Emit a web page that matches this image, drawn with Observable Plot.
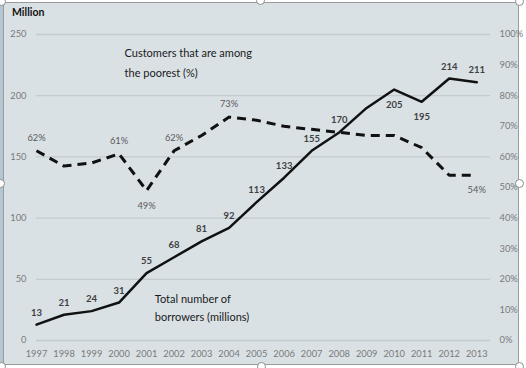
<!DOCTYPE html>
<html>
<head>
<meta charset="utf-8">
<script src="https://cdn.jsdelivr.net/npm/d3@7"></script>
<script src="https://cdn.jsdelivr.net/npm/@observablehq/plot@0.6"></script>
<style>
  html, body { margin: 0; padding: 0; background: #ffffff; }
  #wrap { position: relative; width: 526px; height: 368px; overflow: hidden; font-family: Lato, "Open Sans", sans-serif; }
  #bg { position: absolute; left: 3px; top: 2px; width: 516px; height: 363px; background: #d9e1e5; border: 1px solid #9a9a9a; box-sizing: border-box; }
  #strip { position: absolute; left: 0; top: 0; width: 3px; height: 368px; background: #b4c6d3; }
  #title { position: absolute; left: 12px; top: 6px; font-size: 10.5px; font-weight: bold; color: #111; }
  #chart { position: absolute; left: 0; top: 0; }
  .h { position: absolute; width: 9px; height: 9px; border-radius: 50%; background: #fff; border: 1px solid #8c8c8c; box-sizing: border-box; }
</style>
</head>
<body>
<div id="wrap">
  <div id="strip"></div>
  <div id="bg"></div>
  <div id="chart"></div>
  <div id="title">Million</div>
  <div class="h" style="left:-3px;top:-3px"></div>
  <div class="h" style="left:256px;top:-4px"></div>
  <div class="h" style="left:515px;top:-3px"></div>
  <div class="h" style="left:-4px;top:179px"></div>
  <div class="h" style="left:515px;top:179px"></div>
  <div class="h" style="left:-3px;top:362px"></div>
  <div class="h" style="left:257px;top:362px"></div>
  <div class="h" style="left:515px;top:362px"></div>
</div>
<script>
const years = [1997,1998,1999,2000,2001,2002,2003,2004,2005,2006,2007,2008,2009,2010,2011,2012,2013];
const borrowers = [13,21,24,31,55,68,81,92,113,133,155,170,190,205,195,214,211];
const poorestPct = [62,57,58,61,49,62,67,73,72,70,69,68,67,67,63,54,54];
const borrowerLabelYears = [1997,1998,1999,2000,2001,2002,2003,2004,2005,2006,2007,2008,2010,2011,2012,2013];
const borrowerLabelsBelow = [2010,2011];
const pctLabelYears = [1997,2000,2001,2002,2004,2013];
const pctLabelsBelow = [2001,2013];
const leftTicks = [0,50,100,150,200,250];
const rightTicks = [0,10,20,30,40,50,60,70,80,90,100];

const data = years.map((y,i) => ({year: y, b: borrowers[i], p: poorestPct[i], pY: poorestPct[i]*2.5}));
const bAbove = data.filter(d => borrowerLabelYears.includes(d.year) && !borrowerLabelsBelow.includes(d.year));
const bBelow = data.filter(d => borrowerLabelYears.includes(d.year) && borrowerLabelsBelow.includes(d.year));
const pAbove = data.filter(d => pctLabelYears.includes(d.year) && !pctLabelsBelow.includes(d.year));
const pBelow = data.filter(d => pctLabelYears.includes(d.year) && pctLabelsBelow.includes(d.year));

const font = "Lato, 'Open Sans', sans-serif";
const gray = "#7a7a7a";

const chart = Plot.plot({
  width: 526,
  height: 368,
  marginLeft: 36,
  marginRight: 36,
  marginTop: 34,
  marginBottom: 28,
  style: {background: "transparent", fontFamily: font, fontSize: "9px"},
  x: {domain: [1997, 2013.5], axis: null},
  y: {domain: [0, 250], axis: null},
  marks: [
    Plot.gridY(leftTicks, {stroke: "#c3cbd0", strokeOpacity: 1, strokeWidth: 1.3}),
    Plot.axisY(leftTicks, {anchor: "left", tickSize: 0, tickPadding: 10, fill: gray, fontSize: 9.3, label: null}),
    Plot.axisY(rightTicks.map(v => v*2.5), {anchor: "right", tickSize: 0, tickPadding: 9, fill: gray, fontSize: 9.3, label: null, tickFormat: d => (d/2.5) + "%"}),
    Plot.axisX(years, {anchor: "bottom", tickSize: 0, tickPadding: 10, fill: gray, fontSize: 9.3, label: null, tickFormat: d => String(d)}),
    Plot.line(data, {x: "year", y: "pY", stroke: "#111", strokeWidth: 3, strokeDasharray: "9,6", strokeLinecap: "butt"}),
    Plot.line(data, {x: "year", y: "b", stroke: "#111", strokeWidth: 2.5}),
    Plot.text(bAbove, {x: "year", y: "b", text: d => String(d.b), dy: -12, fontWeight: "bold", fill: "#3f3f3f", fontSize: 9.5}),
    Plot.text(bBelow, {x: "year", y: "b", text: d => String(d.b), dy: 15, fontWeight: "bold", fill: "#3f3f3f", fontSize: 9.5}),
    Plot.text(pAbove, {x: "year", y: "pY", text: d => d.p + "%", dy: -13, fill: "#595959", fontSize: 9.3}),
    Plot.text(pBelow, {x: "year", y: "pY", text: d => d.p + "%", dy: 15, fill: "#595959", fontSize: 9.3}),
    Plot.text(["Customers that are among\nthe poorest (%)"], {x: 2000.2, y: 243, text: d => d, textAnchor: "start", lineAnchor: "top", lineHeight: 1.8, fontSize: 11, fill: "#1a1a1a"}),
    Plot.text(["Total number of\nborrowers (millions)"], {x: 2001.3, y: 41.5, text: d => d, textAnchor: "start", lineAnchor: "top", lineHeight: 1.65, fontSize: 11, fill: "#1a1a1a"})
  ]
});
document.getElementById("chart").appendChild(chart);
</script>
</body>
</html>
